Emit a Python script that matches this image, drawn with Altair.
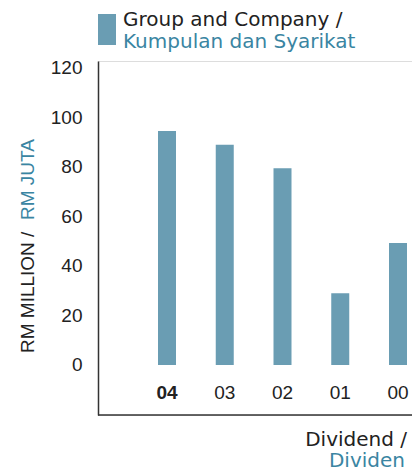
import altair as alt
import pandas as pd

years = ["04", "03", "02", "01", "00"]
dividend = [94.5, 89, 79.5, 29, 49.3]
label_weight = ["bold", "normal", "normal", "normal", "normal"]
y_ticks = [0, 20, 40, 60, 80, 100, 120]

df = pd.DataFrame({"year": years, "value": dividend, "weight": label_weight, "base": 0, "lab": -11.3})
one = pd.DataFrame({"k": [0]})

W, H = 314, 354
BAR = "#6a9db3"
TEAL = "#3a85a2"
DARK = "#222222"
HUM = "DejaVu Sans"

yscale = alt.Scale(domain=[-20.2, 122.8], nice=False, zero=False)
xscale = alt.Scale(type="point", range=[69, 300], padding=0)
xenc = alt.X("year:N", sort=years, scale=xscale, axis=None)

bars = alt.Chart(df).mark_bar(size=18, color=BAR).encode(
    x=xenc,
    y=alt.Y("value:Q", scale=yscale,
            axis=alt.Axis(values=y_ticks, ticks=False, grid=False, labelPadding=16,
                          labelFontSize=19, labelFont="Liberation Sans", labelColor=DARK,
                          domainColor="#333333", domainWidth=1.5, title=None)),
    y2="base:Q",
)

xlab_normal = alt.Chart(df).transform_filter("datum.weight == 'normal'").mark_text(
    fontSize=19, font="Liberation Sans", color=DARK, baseline="middle"
).encode(x=xenc, y=alt.Y("lab:Q", scale=yscale), text="year:N")

xlab_bold = alt.Chart(df).transform_filter("datum.weight == 'bold'").mark_text(
    fontSize=19, font="Liberation Sans", color=DARK, baseline="middle", fontWeight="bold"
).encode(x=xenc, y=alt.Y("lab:Q", scale=yscale), text="year:N")

bottom_line = alt.Chart(one).mark_rule(color="#333333", strokeWidth=1.5).encode(
    x=alt.value(0), x2=alt.value(W), y=alt.value(H)
)

def txt(s, x, y, color, size=20, font=HUM, align="left", angle=None, baseline="alphabetic"):
    kw = dict(text=s, align=align, baseline=baseline, fontSize=size, font=font, color=color)
    if angle is not None:
        kw["angle"] = angle
    return alt.Chart(one).mark_text(**kw).encode(x=alt.value(x), y=alt.value(y))

legend_swatch = alt.Chart(one).mark_rect(color=BAR).encode(
    x=alt.value(0), x2=alt.value(18), y=alt.value(-47), y2=alt.value(-16)
)
leg1 = txt("Group and Company /", 25, -35, DARK)
leg2 = txt("Kumpulan dan Syarikat", 25, -13, TEAL)

yt1 = txt("RM MILLION / ", -70, 292, DARK, size=19, font="Liberation Sans", angle=270, baseline="middle")
yt2 = txt("RM JUTA", -70, 159, TEAL, size=19, font="Liberation Sans", angle=270, baseline="middle")

xt1 = txt("Dividend /", 309, 385, DARK, align="right")
xt2 = txt("Dividen", 307, 406, TEAL, align="right")

chart = alt.layer(bars, xlab_normal, xlab_bold, bottom_line, legend_swatch, leg1, leg2,
                  yt1, yt2, xt1, xt2).properties(
    width=W, height=H,
    autosize=alt.AutoSizeParams(type="none"),
    padding={"left": 90, "top": 53, "right": 0, "bottom": 53},
).configure_view(stroke=None).configure(background="white")

chart.save("out.html", embed_options={"renderer": "svg", "actions": False})
